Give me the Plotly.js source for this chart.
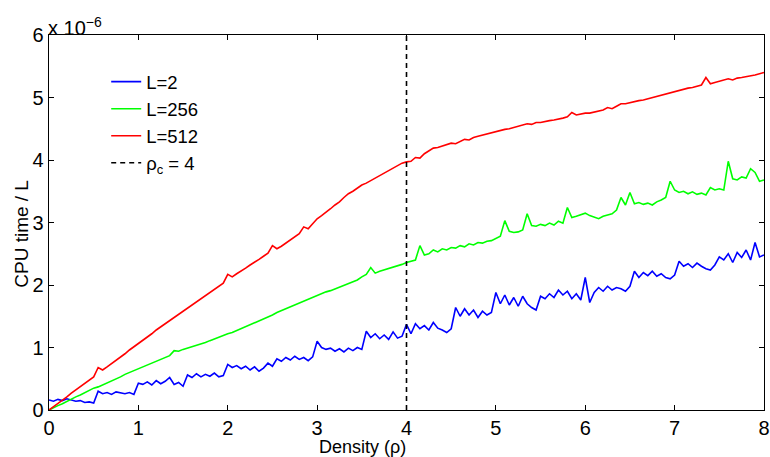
<!DOCTYPE html>
<html>
<head>
<meta charset="utf-8">
<script src="https://cdn.plot.ly/plotly-3.0.1.min.js"></script>
<style>html,body{margin:0;padding:0;background:#fff;}#chart{width:770px;height:457px;}</style>
</head>
<body>
<div id="chart"></div>
<script>
// Density grid: starts at 0, step 0.05 (161 samples up to 8)
const densityStart = 0;
const densityStep = 0.05;

// CPU time / L, in units of 1e-6
const cpuL2 = [
0.16,0.14,0.17,0.15,0.18,0.16,0.14,0.15,0.12,0.13,
0.11,0.30,0.26,0.28,0.25,0.29,0.27,0.26,0.28,0.25,
0.43,0.41,0.45,0.40,0.47,0.42,0.46,0.52,0.41,0.44,
0.38,0.56,0.52,0.58,0.53,0.57,0.54,0.59,0.53,0.55,
0.73,0.68,0.71,0.66,0.70,0.64,0.69,0.62,0.67,0.75,
0.70,0.82,0.78,0.84,0.80,0.86,0.81,0.84,0.79,0.85,
1.10,1.00,0.97,0.99,0.94,0.98,0.93,0.99,0.95,1.00,
0.97,1.26,1.16,1.22,1.14,1.20,1.13,1.25,1.15,1.18,
1.37,1.22,1.38,1.30,1.35,1.28,1.40,1.31,1.28,1.24,
1.30,1.64,1.50,1.62,1.52,1.60,1.48,1.58,1.52,1.56,
1.88,1.70,1.84,1.68,1.80,1.66,1.82,1.70,1.64,1.60,
1.82,1.78,1.86,1.80,1.92,1.84,1.90,1.78,1.86,1.76,
2.12,1.72,1.88,1.96,1.90,1.98,1.92,1.96,1.94,1.90,
1.98,2.22,2.12,2.20,2.15,2.22,2.14,2.18,2.12,2.10,
2.16,2.38,2.30,2.34,2.28,2.35,2.30,2.26,2.24,2.32,
2.45,2.40,2.50,2.36,2.52,2.44,2.56,2.40,2.68,2.45,
2.48];

const cpuL256 = [
0.00,0.04,0.07,0.10,0.14,0.17,0.21,0.24,0.28,0.31,
0.35,0.37,0.40,0.44,0.47,0.50,0.53,0.57,0.60,0.63,
0.66,0.69,0.72,0.75,0.78,0.81,0.84,0.87,0.95,0.94,
0.97,0.99,1.01,1.04,1.06,1.08,1.11,1.14,1.16,1.19,
1.22,1.24,1.27,1.30,1.33,1.36,1.40,1.43,1.46,1.49,
1.52,1.56,1.59,1.62,1.66,1.69,1.72,1.74,1.78,1.81,
1.83,1.86,1.89,1.91,1.94,1.97,1.99,2.02,2.05,2.08,
2.13,2.17,2.28,2.19,2.22,2.24,2.27,2.29,2.31,2.33,
2.36,2.38,2.40,2.63,2.48,2.50,2.56,2.53,2.58,2.56,
2.60,2.59,2.63,2.61,2.66,2.64,2.68,2.67,2.70,2.71,
2.74,2.78,3.03,2.86,2.84,2.85,2.88,3.14,2.95,2.94,
2.97,2.95,2.99,2.96,3.02,2.99,3.24,3.08,3.10,3.12,
3.15,3.11,3.08,3.06,3.10,3.12,3.14,3.20,3.40,3.28,
3.48,3.30,3.32,3.29,3.31,3.28,3.33,3.36,3.40,3.66,
3.52,3.48,3.50,3.46,3.49,3.45,3.47,3.44,3.56,3.52,
3.54,3.52,3.98,3.70,3.68,3.73,3.71,3.86,3.80,3.66,
3.68];

const cpuL512 = [
0.00,0.05,0.11,0.16,0.21,0.27,0.32,0.37,0.42,0.47,
0.53,0.68,0.64,0.69,0.74,0.80,0.85,0.90,0.96,1.01,
1.07,1.12,1.17,1.22,1.28,1.33,1.38,1.44,1.48,1.53,
1.58,1.63,1.69,1.73,1.79,1.84,1.89,1.94,1.99,2.03,
2.17,2.13,2.18,2.22,2.27,2.32,2.36,2.41,2.46,2.51,
2.63,2.58,2.62,2.67,2.72,2.76,2.82,2.93,2.90,2.98,
3.06,3.11,3.16,3.22,3.28,3.33,3.40,3.46,3.50,3.55,
3.60,3.63,3.67,3.71,3.74,3.78,3.82,3.86,3.91,3.95,
3.97,3.98,4.04,4.03,4.10,4.14,4.19,4.20,4.22,4.25,
4.27,4.26,4.30,4.33,4.32,4.36,4.38,4.40,4.41,4.43,
4.46,4.47,4.49,4.50,4.52,4.54,4.55,4.58,4.57,4.60,
4.60,4.62,4.63,4.64,4.65,4.67,4.69,4.76,4.72,4.74,
4.75,4.75,4.77,4.78,4.80,4.84,4.82,4.86,4.90,4.90,
4.92,4.93,4.95,4.96,4.98,5.00,5.01,5.04,5.05,5.07,
5.09,5.12,5.14,5.15,5.16,5.18,5.20,5.32,5.22,5.24,
5.26,5.28,5.30,5.28,5.31,5.32,5.33,5.34,5.36,5.38,
5.40];

const seriesNames = ['L=2', 'L=256', 'L=512'];
const seriesColors = ['#0000ff', '#00ff00', '#ff0000'];
const criticalDensity = 4;
const criticalName = '\u03c1<sub>c</sub> = 4';
const xRange = [0, 8];
const yRange = [0, 6];
const xTickValues = [0, 1, 2, 3, 4, 5, 6, 7, 8];
const yTickValues = [0, 1, 2, 3, 4, 5, 6];
const xTitle = 'Density (\u03c1)';
const yTitle = 'CPU time / L';

const seriesValues = [cpuL2, cpuL256, cpuL512];
const traces = seriesValues.map((vals, i) => ({
  type: 'scatter', mode: 'lines',
  x0: densityStart, dx: densityStep, y: vals,
  name: seriesNames[i],
  line: {color: seriesColors[i], width: 1.6}
}));
traces.push({
  type: 'scatter', mode: 'lines',
  x: [criticalDensity, criticalDensity], y: yRange,
  name: criticalName,
  line: {color: '#000', width: 1.6, dash: '5px,4px'}
});

const axisCommon = {
  showline: true, linecolor: '#000', linewidth: 1.3, mirror: 'ticks',
  ticks: 'inside', ticklen: 5, tickwidth: 1, tickcolor: '#000',
  showgrid: false, zeroline: false,
  tickfont: {size: 20, color: '#000'}
};

const layout = {
  width: 770, height: 457,
  margin: {l: 49, r: 6, t: 35, b: 47},
  paper_bgcolor: '#fff', plot_bgcolor: '#fff',
  font: {family: 'Liberation Sans, Arial, sans-serif', size: 20, color: '#000'},
  showlegend: true,
  legend: {x: 0.08, y: 0.925, xanchor: 'left', yanchor: 'top',
           bgcolor: 'rgba(0,0,0,0)', borderwidth: 0, font: {size: 18.5},
           tracegroupgap: 0},
  xaxis: Object.assign({}, axisCommon, {
    range: xRange, tickmode: 'array', tickvals: xTickValues
  }),
  yaxis: Object.assign({}, axisCommon, {
    range: yRange, tickmode: 'array', tickvals: yTickValues
  }),
  annotations: [
    {xref: 'paper', yref: 'paper', x: 0, y: 1, xanchor: 'left', yanchor: 'bottom',
     text: 'x 10<sup>\u22126</sup>', showarrow: false, font: {size: 20}, xshift: -3, yshift: -6},
    {xref: 'paper', yref: 'paper', x: 0.438, y: 0, xanchor: 'center', yanchor: 'middle',
     text: xTitle, showarrow: false, font: {size: 18}, yshift: -37},
    {xref: 'paper', yref: 'paper', x: 0, y: 0.47, xanchor: 'center', yanchor: 'middle',
     text: yTitle, textangle: -90, showarrow: false, font: {size: 19}, xshift: -27}
  ]
};

Plotly.newPlot('chart', traces, layout, {displayModeBar: false, staticPlot: true});
</script>
</body>
</html>
